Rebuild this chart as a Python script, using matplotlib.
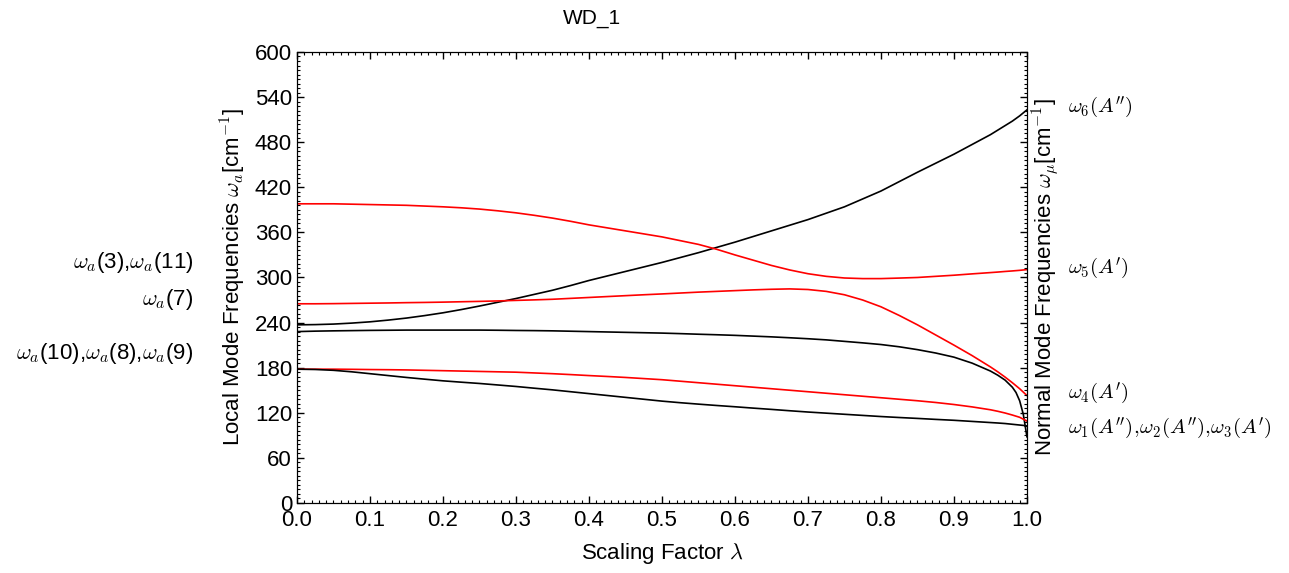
import matplotlib
matplotlib.use("Agg")
import matplotlib.pyplot as plt
from matplotlib.ticker import MultipleLocator

plt.rcParams['font.family'] = ['Liberation Sans', 'DejaVu Sans']
plt.rcParams['mathtext.fontset'] = 'cm'

# scaling factor grid and frequencies (cm^-1) along the adiabatic connection
lam = [0.0, 0.025, 0.05, 0.075, 0.1, 0.125, 0.15, 0.175, 0.2, 0.225,
       0.25, 0.275, 0.3, 0.325, 0.35, 0.375, 0.4, 0.425, 0.45, 0.475,
       0.5, 0.525, 0.55, 0.575, 0.6, 0.625, 0.65, 0.675, 0.7, 0.725,
       0.75, 0.775, 0.8, 0.825, 0.85, 0.875, 0.9, 0.925, 0.95,
       0.96, 0.97, 0.98, 0.985, 0.99, 0.995, 0.9975, 1.0]

w6 = [237, 237.3, 238, 239.3, 241, 243.3, 246, 249.3, 253, 257.3,
      262, 267, 272, 277.5, 283, 289.3, 296, 302, 308, 314,
      320, 326.5, 333, 340, 347, 354.5, 362, 369.5, 377, 385.5,
      394, 404.5, 415, 427.5, 440, 452, 464, 477, 490,
      496, 502, 508, 511.5, 515, 519, 521, 523]
w5 = [398, 398, 398, 397.5, 397, 396.5, 396, 395, 394, 392.7,
      391, 388.7, 386, 382.7, 379, 374.7, 370, 366, 362, 358,
      354, 349, 344, 337.5, 330, 323, 316, 310, 305, 301.5,
      299.3, 298.5, 298.5, 299.2, 300, 301.5, 303, 304.8, 306.5,
      307.2, 308, 308.7, 309.1, 309.5, 310, 310.2, 310.5]
w4 = [265, 265, 265.2, 265.5, 265.8, 266.1, 266.5, 266.8, 267.2, 267.7,
      268.2, 268.8, 269.5, 270.2, 271, 272.2, 273.4, 274.6, 275.8, 277,
      278.1, 279.3, 280.5, 281.5, 282.5, 283.5, 284.3, 284.8, 284, 281.5,
      277, 270, 261, 249.5, 237, 223.5, 210, 196, 181,
      174.5, 167.5, 160, 156, 152, 147.5, 145.2, 143]
w3 = [228, 228.6, 229, 229.3, 229.6, 229.8, 230, 230, 230, 230,
      230, 229.8, 229.5, 229.3, 229, 228.5, 228, 227.5, 227, 226.5,
      226, 225.3, 224.5, 223.8, 223, 222, 221, 219.8, 218.5, 217,
      215, 213, 210.8, 207.8, 204, 199.5, 194, 186, 175.5,
      170, 163.5, 154, 147, 136, 118, 103, 88]
w2 = [178, 178, 178, 177.8, 177.5, 177.3, 177, 176.5, 176, 175.5,
      175, 174.5, 174, 173, 172, 170.8, 169.5, 168.3, 167, 165.5,
      164, 162, 160, 158, 156, 154, 152, 150, 148, 146,
      144, 142, 140, 138, 136, 133.7, 131, 127.8, 124,
      122, 119.7, 117, 115.5, 114, 111.5, 110.3, 109]
w1 = [178, 177.6, 176.5, 174.5, 172, 169.5, 167, 164.7, 162.5, 160.7,
      159, 157, 155, 152.7, 150.5, 148, 145.5, 143, 140.5, 138,
      135.5, 133.4, 131.5, 129.7, 128, 126.2, 124.5, 122.7, 121, 119.5,
      118, 116.5, 115, 113.7, 112.5, 111.2, 110, 108.5, 107,
      106.4, 105.7, 104.7, 104.2, 103.7, 103.2, 102.9, 102.5]

curves = [(w6, 'black'), (w5, 'red'), (w4, 'red'), (w3, 'black'), (w2, 'red'), (w1, 'black')]

left_labels = [r'$\omega_a$(3),$\omega_a$(11)', r'$\omega_a$(7)',
               r'$\omega_a$(10),$\omega_a$(8),$\omega_a$(9)']
left_pos = [320, 271, 199]
right_labels = [r"$\omega_6(A'')$", r"$\omega_5(A')$", r"$\omega_4(A')$",
                r"$\omega_1(A''),\!\omega_2(A''),\!\omega_3(A')$"]
right_pos = [527, 312, 146, 100]

fig = plt.figure(figsize=(12.89, 5.73), dpi=100)
ax = fig.add_axes([0.2304, 0.1222, 0.5663, 0.7871])

for ys, c in curves:
    ax.plot(lam, ys, color=c, lw=1.2)

ax.set_xlim(0, 1)
ax.set_ylim(0, 600)
ax.xaxis.set_major_locator(MultipleLocator(0.1))
ax.xaxis.set_minor_locator(MultipleLocator(0.01))
ax.yaxis.set_major_locator(MultipleLocator(60))
ax.yaxis.set_minor_locator(MultipleLocator(6))
ax.tick_params(which='both', direction='in', top=True, right=True, labelsize=16)
ax.tick_params(which='major', length=5, width=1)
ax.tick_params(which='minor', length=2.5, width=0.8)
ax.tick_params(axis='x', pad=5)

ax.set_xlabel(r'Scaling Factor $\lambda$', fontsize=16, labelpad=7)
ax.set_ylabel(r'Local Mode Frequencies $\omega_a$[cm$^{-1}$]', fontsize=16, labelpad=5)
ax.set_title('WD_1', fontsize=15, x=0.404, pad=20)

# right-hand axis only carries the normal-mode label and ticks
ax2 = ax.twinx()
ax2.set_ylim(0, 600)
ax2.yaxis.set_major_locator(MultipleLocator(60))
ax2.yaxis.set_minor_locator(MultipleLocator(6))
ax2.tick_params(which='both', direction='in', labelright=False)
ax2.tick_params(which='major', length=5, width=1)
ax2.tick_params(which='minor', length=2.5, width=0.8)
ax2.set_ylabel(r'Normal Mode Frequencies $\omega_\mu$[cm$^{-1}$]', fontsize=16, labelpad=3)

for txt, y in zip(left_labels, left_pos):
    ax.text(-0.1425, y, txt, transform=ax.get_yaxis_transform(),
            ha='right', va='center', fontsize=16)
for txt, y in zip(right_labels, right_pos):
    ax.text(1.056, y, txt, transform=ax.get_yaxis_transform(),
            ha='left', va='center', fontsize=15)

fig.savefig('out.png', dpi=100)
